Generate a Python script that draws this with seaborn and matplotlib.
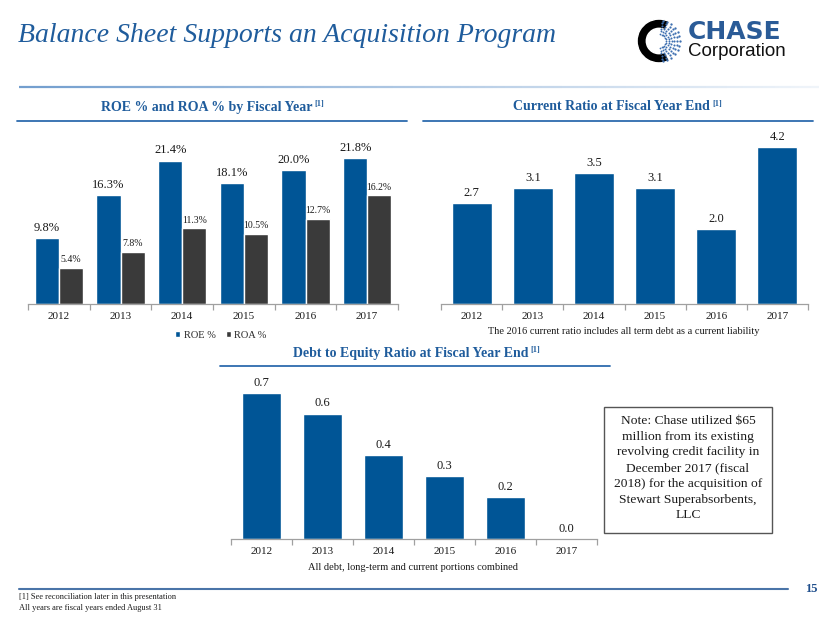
import numpy as np
import pandas as pd
import matplotlib
matplotlib.use("Agg")
import matplotlib.pyplot as plt
import seaborn as sns
from matplotlib.patches import Wedge, Rectangle, Patch
from matplotlib.lines import Line2D
from matplotlib.collections import LineCollection

# ---------------- data ----------------
years = ["2012", "2013", "2014", "2015", "2016", "2017"]
roe = [9.8, 16.3, 21.4, 18.1, 20.0, 21.8]
roa = [5.4, 7.8, 11.3, 10.5, 12.7, 16.2]
current_ratio = [2.7, 3.1, 3.5, 3.1, 2.0, 4.2]
debt_to_equity = [0.7, 0.6, 0.4, 0.3, 0.2, 0.0]
series_names = ["ROE %", "ROA %"]

title = "Balance Sheet Supports an Acquisition Program"
t1 = "ROE % and ROA % by Fiscal Year"
t2 = "Current Ratio at Fiscal Year End"
t3 = "Debt to Equity Ratio at Fiscal Year End"
note2 = "The 2016 current ratio includes all term debt as a current liability"
note3 = "All debt, long-term and current portions combined"
note_box = ["Note: Chase utilized $65", "million from its existing",
            "revolving credit facility in", "December 2017 (fiscal",
            "2018) for the acquisition of", "Stewart Superabsorbents,", "LLC"]
foot1 = "[1] See reconciliation later in this presentation"
foot2 = "All years are fiscal years ended August 31"
page = "15"

# ---------------- style ----------------
BLUE = "#005596"
DARK = "#3a3a3a"
TBLUE = "#1f5c9c"
LBLUE = "#2d6bae"

sns.set_style("white")
plt.rcParams["font.family"] = ["Liberation Serif", "DejaVu Serif"]

W, H = 830, 623
fig = plt.figure(figsize=(8.3, 6.23), dpi=100)
fig.patch.set_facecolor("white")


def fx(x):
    return x / W


def fy(y):
    return 1 - y / H


def px_axes(x0, baseline, w, h):
    return fig.add_axes([x0 / W, 1 - baseline / H, w / W, h / H])


def style(ax, ymax):
    ax.set_ylim(0, ymax)
    ax.set_xlim(-0.5, 5.5)
    ax.set_yticks([])
    ax.set_xlabel("")
    ax.set_ylabel("")
    for s in ["left", "top", "right"]:
        ax.spines[s].set_visible(False)
    ax.spines["bottom"].set_color("#a0a0a0")
    ax.spines["bottom"].set_linewidth(0.9)
    ax.set_xticks(np.arange(-0.5, 6, 1), minor=True)
    ax.tick_params(axis="x", which="major", length=0, pad=5.5, labelsize=8,
                   colors="#1a1a1a", bottom=True)
    ax.tick_params(axis="x", which="minor", length=4, width=0.9,
                   color="#a0a0a0", direction="out", bottom=True)
    ax.patch.set_alpha(0)


# ---------------- panel 1: ROE / ROA ----------------
df1 = pd.DataFrame({
    "year": years * 2,
    "value": roe + roa,
    "metric": [series_names[0]] * len(years) + [series_names[1]] * len(years),
})
ax1 = px_axes(28, 304, 370, 167.5)
sns.barplot(data=df1, x="year", y="value", hue="metric", hue_order=series_names,
            palette=[BLUE, DARK], width=0.78, saturation=1, legend=False, ax=ax1)
style(ax1, 25)
ax1.bar_label(ax1.containers[0], labels=[f"{v:.1f}%" for v in roe],
              padding=3, fontsize=9, color="#1a1a1a")
ax1.bar_label(ax1.containers[1], labels=[f"{v:.1f}%" for v in roa],
              padding=2.5, fontsize=7, color="#1a1a1a")
handles = [Patch(facecolor=BLUE), Patch(facecolor=DARK)]
ax1.legend(handles, series_names, loc="center", bbox_to_anchor=(fx(221), fy(335)),
           bbox_transform=fig.transFigure, ncol=2, frameon=False, fontsize=7.5,
           handlelength=0.45, handleheight=0.45, handletextpad=0.35,
           columnspacing=1.0, borderpad=0)

# ---------------- panel 2: current ratio ----------------
df2 = pd.DataFrame({"year": years, "value": current_ratio})
ax2 = px_axes(441, 304, 367, 4.5 * 37.3)
sns.barplot(data=df2, x="year", y="value", color=BLUE, width=0.655,
            saturation=1, ax=ax2)
style(ax2, 4.5)
ax2.bar_label(ax2.containers[0], labels=[f"{v:.1f}" for v in current_ratio],
              padding=3, fontsize=9, color="#1a1a1a")

# ---------------- panel 3: debt to equity ----------------
df3 = pd.DataFrame({"year": years, "value": debt_to_equity})
ax3 = px_axes(231, 539, 366, 0.8 * 209)
sns.barplot(data=df3, x="year", y="value", color=BLUE, width=0.655,
            saturation=1, ax=ax3)
style(ax3, 0.8)
ax3.bar_label(ax3.containers[0], labels=[f"{v:.1f}" for v in debt_to_equity],
              padding=3, fontsize=9, color="#1a1a1a")

# ---------------- titles & lines ----------------
fig.text(fx(18), fy(42), title, ha="left", va="baseline", fontsize=20,
         style="italic", color=TBLUE)

# header gradient line
xs = np.linspace(19, 819, 200)
segs = [[(fx(xs[i]), fy(87)), (fx(xs[i + 1]), fy(87))] for i in range(len(xs) - 1)]
cols = [(0.42, 0.60, 0.80, a) for a in np.linspace(0.95, 0.1, len(segs))]
fig.add_artist(LineCollection(segs, colors=cols, linewidths=1.6,
                              transform=fig.transFigure))


def panel_title(text, x_end, y, lx0, lx1, ly):
    fig.text(fx(x_end), fy(y), text, ha="right", va="center", fontsize=10,
             fontweight="bold", color=TBLUE)
    fig.text(fx(x_end + 2), fy(y - 3), "[1]", ha="left", va="center",
             fontsize=6, fontweight="bold", color=TBLUE)
    fig.add_artist(Line2D([fx(lx0), fx(lx1)], [fy(ly), fy(ly)], color=LBLUE,
                          lw=1.3, transform=fig.transFigure))


panel_title(t1, 312, 107, 17, 407, 121)
panel_title(t2, 710, 107, 423, 813, 121)
panel_title(t3, 528, 353, 220, 610, 366)

fig.text(fx(624), fy(332), note2, ha="center", va="center", fontsize=7.5,
         color="#1a1a1a")
fig.text(fx(413), fy(568), note3, ha="center", va="center", fontsize=7.5,
         color="#1a1a1a")

# note box
fig.add_artist(Rectangle((fx(604), fy(533)), (772 - 604) / W, (533 - 407) / H,
                         transform=fig.transFigure, facecolor="white",
                         edgecolor="#555555", lw=1.0))
for i, line in enumerate(note_box):
    fig.text(fx(688), fy(421 + i * 15.7), line, ha="center", va="center",
             fontsize=9.7, color="#1a1a1a")

# footer
fig.add_artist(Line2D([fx(19), fx(788)], [fy(589), fy(589)], color="#4a74a8",
                      lw=1.5, transform=fig.transFigure))
fig.text(fx(805), fy(589), page, ha="left", va="center", fontsize=9,
         fontweight="bold", color="#1f4e8c")
fig.text(fx(19), fy(597), foot1, ha="left", va="center", fontsize=6,
         color="#1a1a1a")
fig.text(fx(19), fy(608), foot2, ha="left", va="center", fontsize=6,
         color="#1a1a1a")

# logo
lax = fig.add_axes([fx(636), fy(64), 46 / W, 46 / H])
lax.set_xlim(-1.05, 1.05)
lax.set_ylim(-1.05, 1.05)
lax.set_aspect("equal")
lax.axis("off")
lax.add_patch(Wedge((0, 0), 1.0, 62, 298, width=0.42, facecolor="black"))
for ang in np.linspace(-80, 80, 13):
    for r in np.linspace(0.32, 0.95, 6):
        a = np.deg2rad(ang)
        lax.plot(r * np.cos(a), r * np.sin(a), "o", ms=1.1 + r * 0.6,
                 color="#3d6fb0", mew=0)
fig.text(fx(688), fy(32), "CHASE", ha="left", va="center", fontsize=18,
         fontweight="bold", family="DejaVu Sans", color="#2a5b97")
fig.text(fx(688), fy(51), "Corporation", ha="left", va="center", fontsize=13.5,
         family="Liberation Sans", color="#111111")

fig.savefig("out.png", dpi=100, facecolor="white")
